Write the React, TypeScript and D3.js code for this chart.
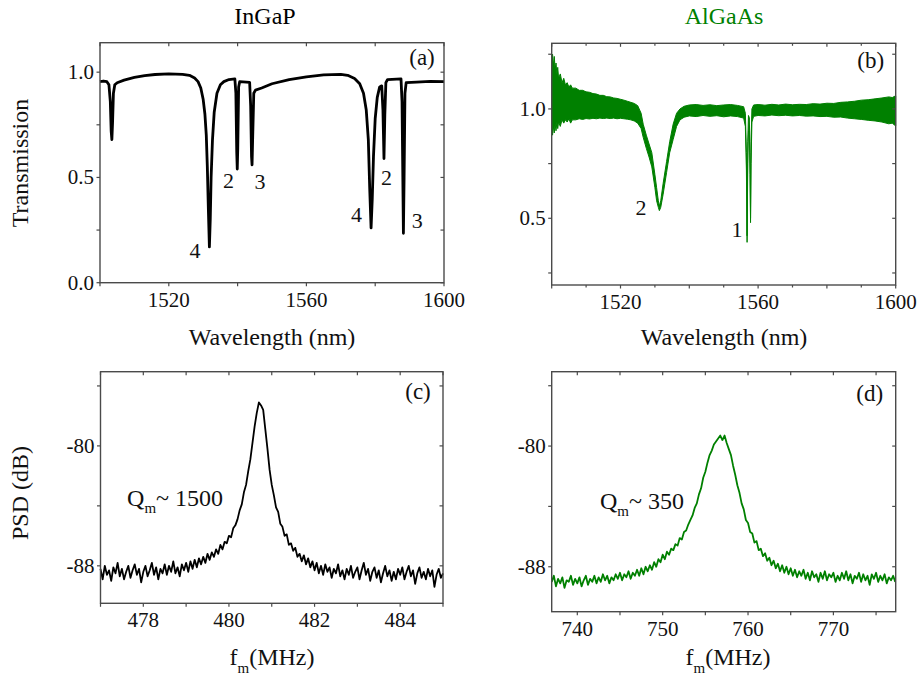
import React from 'react';
import * as d3 from 'd3';

const FONT = "'Liberation Serif', 'Times New Roman', Times, serif";
const BLACK = '#000000';
const GREEN = '#008000';
const AXIS = '#4a4a4a';
const TICK = 3.5;

const titles = ['InGaP', 'AlGaAs'];

// (a) InGaP transmission: [wavelength nm, transmission]
const ingapTransmission: [number, number][] = [
  [1500.0, 0.955], [1501.0, 0.958], [1502.0, 0.955], [1502.6, 0.94], [1503.0, 0.86], [1503.25, 0.72],
  [1503.45, 0.68], [1503.65, 0.76], [1503.9, 0.9], [1504.3, 0.94], [1505.0, 0.95], [1507.0, 0.962],
  [1510.0, 0.975], [1513.0, 0.984], [1516.0, 0.989], [1520.0, 0.992], [1524.0, 0.99], [1526.0, 0.985],
  [1527.5, 0.972], [1528.5, 0.955], [1529.3, 0.925], [1530.0, 0.87], [1530.5, 0.8], [1530.9, 0.7],
  [1531.2, 0.55], [1531.5, 0.35], [1531.8, 0.17], [1532.05, 0.3], [1532.3, 0.5], [1532.7, 0.68],
  [1533.2, 0.81], [1534.0, 0.9], [1535.0, 0.94], [1536.0, 0.955], [1537.5, 0.965], [1539.2, 0.968],
  [1539.5, 0.9], [1539.75, 0.62], [1539.9, 0.54], [1540.05, 0.64], [1540.3, 0.93], [1540.6, 0.955],
  [1543.5, 0.952], [1543.8, 0.84], [1544.05, 0.6], [1544.2, 0.56], [1544.4, 0.7], [1544.7, 0.9],
  [1545.2, 0.915], [1547.0, 0.925], [1550.0, 0.945], [1555.0, 0.965], [1560.0, 0.978], [1565.0, 0.987],
  [1570.0, 0.99], [1572.0, 0.985], [1574.0, 0.97], [1575.5, 0.945], [1576.6, 0.9], [1577.4, 0.82],
  [1578.0, 0.68], [1578.4, 0.45], [1578.8, 0.26], [1579.15, 0.4], [1579.5, 0.6], [1580.0, 0.78],
  [1580.6, 0.88], [1581.3, 0.93], [1581.9, 0.935], [1582.25, 0.82], [1582.55, 0.59], [1582.8, 0.8],
  [1583.1, 0.95], [1583.6, 0.965], [1587.5, 0.968], [1587.8, 0.86], [1588.0, 0.55], [1588.2, 0.235],
  [1588.4, 0.5], [1588.65, 0.9], [1589.0, 0.95], [1592.0, 0.953], [1596.0, 0.956], [1600.0, 0.955],
];

// (b) AlGaAs transmission noise band: [wavelength nm, lower, upper]
const algaasBand: [number, number, number][] = [
  [1500.0, 0.9, 1.22], [1500.25, 0.88, 1.25], [1500.5, 0.92, 1.2], [1500.75, 0.89, 1.24],
  [1501.0, 0.93, 1.18], [1501.25, 0.9, 1.21], [1501.5, 0.94, 1.16], [1501.75, 0.91, 1.19],
  [1502.0, 0.94, 1.14], [1502.5, 0.92, 1.16], [1503.0, 0.95, 1.12], [1503.5, 0.935, 1.14],
  [1504.0, 0.95, 1.11], [1504.5, 0.94, 1.12], [1505.0, 0.955, 1.1], [1505.5, 0.935, 1.11],
  [1506.0, 0.95, 1.095], [1507.0, 0.95, 1.095], [1508.0, 0.955, 1.085], [1509.0, 0.952, 1.085],
  [1510.0, 0.956, 1.078], [1511.0, 0.954, 1.076], [1512.0, 0.957, 1.07], [1513.0, 0.955, 1.068],
  [1514.0, 0.958, 1.062], [1515.0, 0.956, 1.062], [1516.0, 0.958, 1.056], [1517.0, 0.956, 1.055],
  [1518.0, 0.958, 1.05], [1519.0, 0.955, 1.048], [1520.0, 0.957, 1.044], [1521.0, 0.955, 1.04],
  [1522.0, 0.953, 1.035], [1523.0, 0.95, 1.03], [1524.0, 0.945, 1.025], [1525.0, 0.935, 1.015],
  [1526.0, 0.91, 0.98], [1526.6, 0.87, 0.93], [1527.5, 0.82, 0.88], [1528.3, 0.78, 0.84],
  [1529.1, 0.735, 0.8], [1530.0, 0.64, 0.7], [1530.5, 0.58, 0.64], [1531.0, 0.55, 0.58],
  [1531.3, 0.535, 0.555], [1531.7, 0.55, 0.58], [1532.4, 0.61, 0.66], [1533.4, 0.71, 0.76],
  [1534.3, 0.8, 0.85], [1535.3, 0.86, 0.93], [1536.3, 0.92, 0.98], [1537.3, 0.95, 1.0],
  [1538.5, 0.962, 1.012], [1540.0, 0.968, 1.018], [1542.0, 0.965, 1.02], [1544.0, 0.97, 1.016],
  [1546.0, 0.966, 1.019], [1548.0, 0.969, 1.015], [1550.0, 0.964, 1.018], [1552.0, 0.968, 1.02],
  [1554.0, 0.965, 1.016], [1555.8, 0.958, 1.01], [1556.3, 0.92, 0.98], [1556.6, 0.72, 0.8],
  [1556.8, 0.39, 0.42], [1557.0, 0.75, 0.85], [1557.2, 0.9, 0.97], [1557.45, 0.9, 0.96],
  [1557.65, 0.7, 0.8], [1557.8, 0.48, 0.5], [1557.95, 0.75, 0.85], [1558.2, 0.94, 1.0],
  [1558.7, 0.966, 1.018], [1560.0, 0.97, 1.02], [1562.0, 0.968, 1.017], [1564.0, 0.972, 1.021],
  [1566.0, 0.969, 1.018], [1568.0, 0.971, 1.022], [1570.0, 0.968, 1.019], [1572.0, 0.97, 1.021],
  [1574.0, 0.967, 1.02], [1576.0, 0.968, 1.024], [1578.0, 0.965, 1.022], [1580.0, 0.966, 1.026],
  [1582.0, 0.962, 1.025], [1584.0, 0.963, 1.03], [1586.0, 0.958, 1.032], [1588.0, 0.955, 1.035],
  [1590.0, 0.952, 1.04], [1592.0, 0.948, 1.042], [1594.0, 0.945, 1.046], [1596.0, 0.94, 1.05],
  [1598.0, 0.932, 1.055], [1599.0, 0.935, 1.052], [1600.0, 0.922, 1.06],
];

// (c) InGaP mechanical PSD: [frequency MHz, dB]
const ingapPsd: [number, number][] = [
  [477.00, -88.2], [477.05, -88.9], [477.10, -88.0], [477.15, -88.6], [477.20, -88.3], [477.25, -89.0],
  [477.30, -88.1], [477.35, -88.5], [477.40, -87.8], [477.45, -88.7], [477.50, -88.2], [477.55, -88.9],
  [477.60, -88.4], [477.65, -88.0], [477.70, -88.8], [477.75, -88.3], [477.80, -87.9], [477.85, -88.6],
  [477.90, -88.2], [477.95, -89.1], [478.00, -88.4], [478.05, -88.0], [478.10, -88.7], [478.15, -88.3],
  [478.20, -87.8], [478.25, -88.6], [478.30, -88.1], [478.35, -88.9], [478.40, -88.2], [478.45, -88.5],
  [478.50, -87.9], [478.55, -88.6], [478.60, -88.0], [478.65, -88.4], [478.70, -87.7], [478.75, -88.5],
  [478.80, -88.1], [478.85, -88.7], [478.90, -87.9], [478.95, -88.3], [479.00, -87.8], [479.05, -88.4],
  [479.10, -87.7], [479.15, -88.2], [479.20, -87.6], [479.25, -88.1], [479.30, -87.5], [479.35, -87.9],
  [479.40, -87.4], [479.45, -87.8], [479.50, -87.2], [479.55, -87.6], [479.60, -87.1], [479.65, -87.4],
  [479.70, -86.9], [479.75, -87.2], [479.80, -86.6], [479.85, -86.9], [479.90, -86.4], [479.95, -86.5],
  [480.00, -86.0], [480.05, -86.1], [480.10, -85.5], [480.15, -85.3], [480.20, -84.9], [480.25, -84.3],
  [480.30, -83.9], [480.35, -83.1], [480.40, -82.6], [480.45, -81.7], [480.50, -80.9], [480.55, -79.8],
  [480.60, -78.7], [480.65, -77.8], [480.70, -77.1], [480.75, -77.3], [480.80, -77.6], [480.85, -78.9],
  [480.90, -80.2], [480.95, -81.6], [481.00, -82.6], [481.05, -83.3], [481.10, -84.1], [481.15, -84.4],
  [481.20, -85.2], [481.25, -85.4], [481.30, -86.0], [481.35, -85.9], [481.40, -86.6], [481.45, -86.5],
  [481.50, -87.0], [481.55, -86.8], [481.60, -87.4], [481.65, -87.2], [481.70, -87.7], [481.75, -87.3],
  [481.80, -87.9], [481.85, -87.5], [481.90, -88.1], [481.95, -87.7], [482.00, -88.3], [482.05, -87.8],
  [482.10, -88.5], [482.15, -88.0], [482.20, -88.6], [482.25, -87.9], [482.30, -88.4], [482.35, -88.1],
  [482.40, -88.8], [482.45, -88.2], [482.50, -88.5], [482.55, -87.9], [482.60, -88.7], [482.65, -88.3],
  [482.70, -88.9], [482.75, -88.2], [482.80, -88.6], [482.85, -88.0], [482.90, -88.8], [482.95, -88.4],
  [483.00, -88.1], [483.05, -88.9], [483.10, -88.3], [483.15, -87.8], [483.20, -88.6], [483.25, -88.2],
  [483.30, -89.0], [483.35, -88.4], [483.40, -88.1], [483.45, -88.8], [483.50, -88.3], [483.55, -89.1],
  [483.60, -88.5], [483.65, -88.0], [483.70, -88.7], [483.75, -88.3], [483.80, -89.0], [483.85, -88.4],
  [483.90, -88.9], [483.95, -88.2], [484.00, -88.6], [484.05, -88.1], [484.10, -88.9], [484.15, -88.4],
  [484.20, -88.0], [484.25, -88.7], [484.30, -88.3], [484.35, -89.2], [484.40, -88.5], [484.45, -88.1],
  [484.50, -88.8], [484.55, -88.4], [484.60, -88.9], [484.65, -88.2], [484.70, -88.7], [484.75, -88.3],
  [484.80, -89.4], [484.85, -88.6], [484.90, -88.2], [484.95, -88.8], [485.00, -88.5],
];

// (d) AlGaAs mechanical PSD: [frequency MHz, dB]
const algaasPsd: [number, number][] = [
  [737.00, -89.0], [737.25, -88.6], [737.50, -89.3], [737.75, -88.8], [738.00, -89.1], [738.25, -88.7],
  [738.50, -89.4], [738.75, -88.9], [739.00, -89.0], [739.25, -88.6], [739.50, -89.2], [739.75, -88.8],
  [740.00, -89.1], [740.25, -88.7], [740.50, -89.3], [740.75, -88.9], [741.00, -88.6], [741.25, -89.2],
  [741.50, -88.8], [741.75, -89.0], [742.00, -88.6], [742.25, -89.1], [742.50, -88.7], [742.75, -89.0],
  [743.00, -88.5], [743.25, -88.9], [743.50, -88.6], [743.75, -89.1], [744.00, -88.7], [744.25, -88.9],
  [744.50, -88.5], [744.75, -88.8], [745.00, -88.4], [745.25, -88.9], [745.50, -88.5], [745.75, -88.7],
  [746.00, -88.3], [746.25, -88.8], [746.50, -88.4], [746.75, -88.6], [747.00, -88.2], [747.25, -88.6],
  [747.50, -88.1], [747.75, -88.5], [748.00, -88.0], [748.25, -88.3], [748.50, -87.9], [748.75, -88.2],
  [749.00, -87.7], [749.25, -88.0], [749.50, -87.5], [749.75, -87.7], [750.00, -87.2], [750.25, -87.5],
  [750.50, -87.0], [750.75, -87.2], [751.00, -86.8], [751.25, -86.9], [751.50, -86.5], [751.75, -86.6],
  [752.00, -86.1], [752.25, -86.2], [752.50, -85.7], [752.75, -85.6], [753.00, -85.2], [753.25, -84.9],
  [753.50, -84.6], [753.75, -84.1], [754.00, -83.8], [754.25, -83.2], [754.50, -82.8], [754.75, -82.1],
  [755.00, -81.7], [755.25, -81.1], [755.50, -80.6], [755.75, -80.3], [756.00, -79.9], [756.25, -79.7],
  [756.50, -79.5], [756.75, -79.3], [757.00, -79.6], [757.25, -79.3], [757.50, -79.8], [757.75, -80.2],
  [758.00, -80.6], [758.25, -81.3], [758.50, -81.9], [758.75, -82.6], [759.00, -83.1], [759.25, -83.8],
  [759.50, -84.2], [759.75, -84.9], [760.00, -85.1], [760.25, -85.7], [760.50, -85.8], [760.75, -86.4],
  [761.00, -86.3], [761.25, -86.9], [761.50, -86.8], [761.75, -87.3], [762.00, -87.1], [762.25, -87.6],
  [762.50, -87.4], [762.75, -87.9], [763.00, -87.6], [763.25, -88.1], [763.50, -87.8], [763.75, -88.3],
  [764.00, -87.9], [764.25, -88.4], [764.50, -88.0], [764.75, -88.5], [765.00, -88.1], [765.25, -88.6],
  [765.50, -88.2], [765.75, -88.7], [766.00, -88.3], [766.25, -88.6], [766.50, -88.2], [766.75, -88.8],
  [767.00, -88.4], [767.25, -88.9], [767.50, -88.3], [767.75, -88.7], [768.00, -88.5], [768.25, -89.0],
  [768.50, -88.4], [768.75, -88.8], [769.00, -88.3], [769.25, -88.9], [769.50, -88.5], [769.75, -88.7],
  [770.00, -88.4], [770.25, -89.0], [770.50, -88.6], [770.75, -88.9], [771.00, -88.4], [771.25, -88.8],
  [771.50, -88.3], [771.75, -88.9], [772.00, -88.5], [772.25, -89.1], [772.50, -88.6], [772.75, -88.8],
  [773.00, -88.4], [773.25, -89.0], [773.50, -88.5], [773.75, -88.9], [774.00, -88.6], [774.25, -89.2],
  [774.50, -88.5], [774.75, -88.8], [775.00, -88.4], [775.25, -89.0], [775.50, -88.6], [775.75, -88.9],
  [776.00, -88.5], [776.25, -89.1], [776.50, -88.7], [776.75, -88.9], [777.00, -88.6], [777.25, -89.0],
];

// Ticks
const wlTicks = [1500, 1520, 1540, 1560, 1580, 1600];
const wlMinorB = [1510, 1530, 1550, 1570, 1590];
const wlTickLabels = [1520, 1560, 1600];
const transTicksA = [0, 0.25, 0.5, 0.75, 1.0];
const transLabelsA = [0, 0.5, 1.0];
const transTicksB = [0.25, 0.5, 0.75, 1.0, 1.25];
const transLabelsB = [0.5, 1.0];
const freqTicksC = [477, 478, 479, 480, 481, 482, 483, 484, 485];
const freqLabelsC = [478, 480, 482, 484];
const freqTicksD = [740, 745, 750, 755, 760, 765, 770, 775];
const freqLabelsD = [740, 750, 760, 770];
const psdTicks = [-92, -88, -84, -80, -76];
const psdLabels = [-88, -80];

// Annotations (data coordinates)
const modeLabelsA = [
  { text: '4', wl: 1527.6, t: 0.117 },
  { text: '2', wl: 1537.35, t: 0.449 },
  { text: '3', wl: 1546.5, t: 0.444 },
  { text: '4', wl: 1574.6, t: 0.288 },
  { text: '2', wl: 1583.3, t: 0.463 },
  { text: '3', wl: 1592.2, t: 0.259 },
];
const modeLabelsB = [
  { text: '2', wl: 1525.96, t: 0.515 },
  { text: '1', wl: 1553.9, t: 0.414 },
];
const qLabelC = { q: '1500', f: 477.62, db: -84.0 };
const qLabelD = { q: '350', f: 742.66, db: -84.2 };

type Box = { left: number; right: number; top: number; bottom: number };

const boxA: Box = { left: 100, right: 444, top: 42.7, bottom: 282.7 };
const boxB: Box = { left: 551.7, right: 895.7, top: 43.3, bottom: 285 };
const boxC: Box = { left: 100.5, right: 443, top: 371.7, bottom: 603.3 };
const boxD: Box = { left: 551.7, right: 895.7, top: 371.7, bottom: 611.7 };

const inside = (v: number, dom: number[]) => v >= Math.min(dom[0], dom[1]) - 1e-9 && v <= Math.max(dom[0], dom[1]) + 1e-9;

function Axes(props: {
  box: Box;
  x: d3.ScaleLinear<number, number>;
  y: d3.ScaleLinear<number, number>;
  xTicks: number[];
  xMinor?: number[];
  xLabels: number[];
  yTicks: number[];
  yLabels: number[];
  yFmt: (v: number) => string;
  letter: string;
  letterDx: number;
  letterDy: number;
}) {
  const { box, x, y, xTicks, xMinor = [], xLabels, yTicks, yLabels, yFmt, letter, letterDx, letterDy } = props;
  const xd = x.domain();
  const yd = y.domain();
  const xt = xTicks.filter((v) => inside(v, xd));
  const yt = yTicks.filter((v) => inside(v, yd));
  return (
    <g>
      <rect x={box.left} y={box.top} width={box.right - box.left} height={box.bottom - box.top}
        fill="none" stroke={AXIS} strokeWidth={1.4} />
      <g stroke={AXIS} strokeWidth={1.2}>
        {xt.map((v) => (
          <g key={'xt' + v}>
            <line x1={x(v)} x2={x(v)} y1={box.bottom} y2={box.bottom + TICK} />
            <line x1={x(v)} x2={x(v)} y1={box.top} y2={box.top + TICK} />
          </g>
        ))}
        {xMinor.map((v) => (
          <g key={'xm' + v}>
            <line x1={x(v)} x2={x(v)} y1={box.bottom} y2={box.bottom + 2.5} />
            <line x1={x(v)} x2={x(v)} y1={box.top} y2={box.top + 2.5} />
          </g>
        ))}
        {yt.map((v) => (
          <g key={'yt' + v}>
            <line x1={box.left - TICK} x2={box.left} y1={y(v)} y2={y(v)} />
            <line x1={box.right - TICK} x2={box.right} y1={y(v)} y2={y(v)} />
          </g>
        ))}
      </g>
      <g fontFamily={FONT} fontSize={21} fill="#111">
        {xLabels.map((v) => (
          <text key={'xl' + v} x={x(v)} y={box.bottom + 24} textAnchor="middle">{v}</text>
        ))}
        {yLabels.map((v) => (
          <text key={'yl' + v} x={box.left - 6} y={y(v) + 7} textAnchor="end">{yFmt(v)}</text>
        ))}
      </g>
      <text x={box.right + letterDx} y={box.top + letterDy} textAnchor="middle"
        fontFamily={FONT} fontSize={23} fill="#111">{letter}</text>
    </g>
  );
}

export default function App() {
  const xA = d3.scaleLinear().domain([1500, 1600]).range([boxA.left, boxA.right]);
  const yA = d3.scaleLinear().domain([0, 1.14]).range([boxA.bottom, boxA.top]);
  const xB = d3.scaleLinear().domain([1500, 1600]).range([boxB.left, boxB.right]);
  const yB = d3.scaleLinear().domain([0.195, 1.3]).range([boxB.bottom, boxB.top]);
  const xC = d3.scaleLinear().domain([477, 485]).range([boxC.left, boxC.right]);
  const yC = d3.scaleLinear().domain([-90.5, -75.05]).range([boxC.bottom, boxC.top]);
  const xD = d3.scaleLinear().domain([737, 777.3]).range([boxD.left, boxD.right]);
  const yD = d3.scaleLinear().domain([-90.98, -75.07]).range([boxD.bottom, boxD.top]);

  const lineA = d3.line<[number, number]>().x((d) => xA(d[0])).y((d) => yA(d[1]))(ingapTransmission) || '';
  const areaB = d3.area<[number, number, number]>().x((d) => xB(d[0])).y0((d) => yB(d[1])).y1((d) => yB(d[2]))(algaasBand) || '';
  const lineC = d3.line<[number, number]>().x((d) => xC(d[0])).y((d) => yC(d[1]))(ingapPsd) || '';
  const lineD = d3.line<[number, number]>().x((d) => xD(d[0])).y((d) => yD(d[1]))(algaasPsd) || '';

  const fmt1 = (v: number) => v.toFixed(1);
  const fmt0 = (v: number) => String(v);

  return (
    <svg width={920} height={683} viewBox="0 0 920 683"
      style={{ position: 'absolute', left: 0, top: 0, background: '#fff', display: 'block' }}>
      <rect x={0} y={0} width={920} height={683} fill="#fff" />

      {/* Titles */}
      <text x={265} y={24} textAnchor="middle" fontFamily={FONT} fontSize={24} fill={BLACK}>{titles[0]}</text>
      <text x={724} y={24} textAnchor="middle" fontFamily={FONT} fontSize={24} fill={GREEN}>{titles[1]}</text>

      {/* Y axis titles */}
      <text transform="translate(28,163) rotate(-90)" textAnchor="middle" fontFamily={FONT} fontSize={24} fill="#111">Transmission</text>
      <text transform="translate(28,493) rotate(-90)" textAnchor="middle" fontFamily={FONT} fontSize={24} fill="#111">PSD (dB)</text>

      {/* X axis titles */}
      <text x={272} y={345} textAnchor="middle" fontFamily={FONT} fontSize={24} fill="#111">Wavelength (nm)</text>
      <text x={724} y={345} textAnchor="middle" fontFamily={FONT} fontSize={24} fill="#111">Wavelength (nm)</text>
      <text x={272} y={665} textAnchor="middle" fontFamily={FONT} fontSize={24} fill="#111">
        <tspan>f</tspan><tspan fontSize={15} dy={8}>m</tspan><tspan dy={-8}>(MHz)</tspan>
      </text>
      <text x={728} y={665} textAnchor="middle" fontFamily={FONT} fontSize={24} fill="#111">
        <tspan>f</tspan><tspan fontSize={15} dy={8}>m</tspan><tspan dy={-8}>(MHz)</tspan>
      </text>

      {/* Panel (a) */}
      <path d={lineA} fill="none" stroke={BLACK} strokeWidth={2.8} strokeLinejoin="round" />
      {modeLabelsA.map((m, i) => (
        <text key={'ma' + i} x={xA(m.wl)} y={yA(m.t)} textAnchor="middle" fontFamily={FONT} fontSize={22} fill="#111">{m.text}</text>
      ))}
      <Axes box={boxA} x={xA} y={yA} xTicks={wlTicks} xLabels={wlTickLabels} yTicks={transTicksA}
        yLabels={transLabelsA} yFmt={fmt1} letter="(a)" letterDx={-22} letterDy={22} />

      {/* Panel (b) */}
      <path d={areaB} fill={GREEN} stroke={GREEN} strokeWidth={1} strokeLinejoin="round" />
      {modeLabelsB.map((m, i) => (
        <text key={'mb' + i} x={xB(m.wl)} y={yB(m.t)} textAnchor="middle" fontFamily={FONT} fontSize={22} fill="#111">{m.text}</text>
      ))}
      <Axes box={boxB} x={xB} y={yB} xTicks={wlTicks} xMinor={wlMinorB} xLabels={wlTickLabels} yTicks={transTicksB}
        yLabels={transLabelsB} yFmt={fmt1} letter="(b)" letterDx={-25} letterDy={25} />

      {/* Panel (c) */}
      <path d={lineC} fill="none" stroke={BLACK} strokeWidth={1.8} strokeLinejoin="round" />
      <text x={xC(qLabelC.f)} y={yC(qLabelC.db)} fontFamily={FONT} fontSize={24} fill="#111">
        <tspan>Q</tspan><tspan fontSize={15} dy={7}>m</tspan><tspan dy={-7}>~ {qLabelC.q}</tspan>
      </text>
      <Axes box={boxC} x={xC} y={yC} xTicks={freqTicksC} xLabels={freqLabelsC} yTicks={psdTicks}
        yLabels={psdLabels} yFmt={fmt0} letter="(c)" letterDx={-25} letterDy={27} />

      {/* Panel (d) */}
      <path d={lineD} fill="none" stroke={GREEN} strokeWidth={1.8} strokeLinejoin="round" />
      <text x={xD(qLabelD.f)} y={yD(qLabelD.db)} fontFamily={FONT} fontSize={24} fill="#111">
        <tspan>Q</tspan><tspan fontSize={15} dy={7}>m</tspan><tspan dy={-7}>~ {qLabelD.q}</tspan>
      </text>
      <Axes box={boxD} x={xD} y={yD} xTicks={freqTicksD} xLabels={freqLabelsD} yTicks={psdTicks}
        yLabels={psdLabels} yFmt={fmt0} letter="(d)" letterDx={-26} letterDy={29} />
    </svg>
  );
}
